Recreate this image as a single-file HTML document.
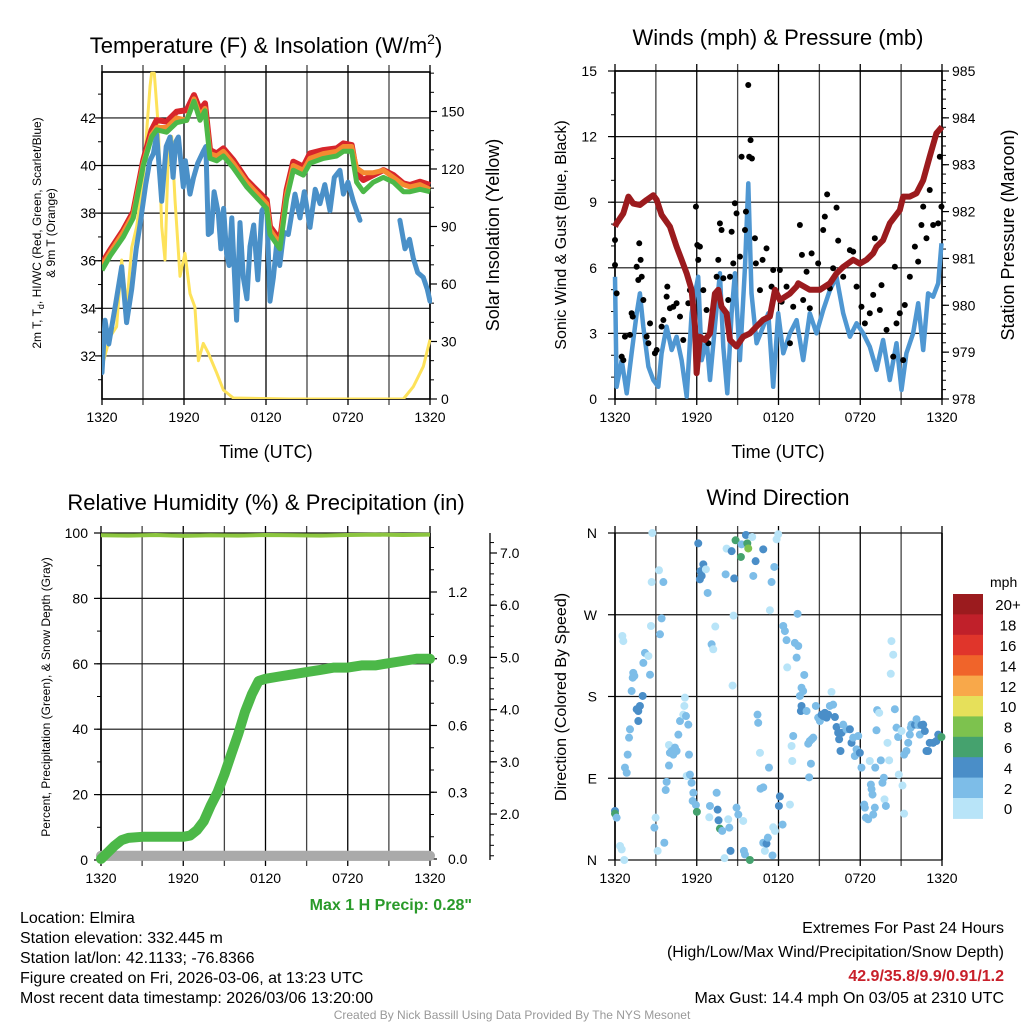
<!DOCTYPE html>
<html><head><meta charset="utf-8">
<style>
html,body{margin:0;padding:0;background:#fff;}
svg{display:block;font-family:"Liberation Sans",sans-serif;}
</style></head>
<body>
<svg id="fig" width="1024" height="1024" viewBox="0 0 1024 1024" xmlns="http://www.w3.org/2000/svg">
<rect x="0" y="0" width="1024" height="1024" fill="#fff"/>
<g font-size="22" text-anchor="middle" fill="#000">
<text x="266" y="53">Temperature (F) &amp; Insolation (W/m<tspan font-size="14" dy="-9">2</tspan><tspan dy="9">)</tspan></text>
<text x="778" y="45">Winds (mph) &amp; Pressure (mb)</text>
<text x="266" y="510">Relative Humidity (%) &amp; Precipitation (in)</text>
<text x="778" y="505">Wind Direction</text>
</g>
<g fill="#000" text-anchor="middle">
<text x="266" y="458" font-size="18">Time (UTC)</text>
<text x="778" y="458" font-size="18">Time (UTC)</text>
<text font-size="12" transform="translate(41,233) rotate(-90)">2m T, T<tspan font-size="9" dy="3">d</tspan><tspan dy="-3">, HI/WC (Red, Green, Scarlet/Blue)</tspan></text>
<text font-size="12" transform="translate(55,233) rotate(-90)">&amp; 9m T (Orange)</text>
<text font-size="18" transform="translate(499,235) rotate(-90)">Solar Insolation (Yellow)</text>
<text font-size="16" transform="translate(566,235) rotate(-90)">Sonic Wind &amp; Gust (Blue, Black)</text>
<text font-size="18" transform="translate(1014,235) rotate(-90)">Station Pressure (Maroon)</text>
<text font-size="12" transform="translate(50,697) rotate(-90)">Percent, Precipitation (Green), &amp; Snow Depth (Gray)</text>
<text font-size="16" transform="translate(566,697) rotate(-90)">Direction (Colored By Speed)</text>
</g>
<g id="layer"></g>
<g font-size="16" fill="#000">
<text x="472" y="910" text-anchor="end" font-weight="bold" fill="#2a9a2a">Max 1 H Precip: 0.28"</text>
<text x="20" y="923">Location: Elmira</text>
<text x="20" y="943">Station elevation: 332.445 m</text>
<text x="20" y="963">Station lat/lon: 42.1133; -76.8366</text>
<text x="20" y="983">Figure created on Fri, 2026-03-06, at 13:23 UTC</text>
<text x="20" y="1003">Most recent data timestamp: 2026/03/06 13:20:00</text>
<text x="1004" y="933" text-anchor="end">Extremes For Past 24 Hours</text>
<text x="1004" y="957" text-anchor="end">(High/Low/Max Wind/Precipitation/Snow Depth)</text>
<text x="1004" y="981" text-anchor="end" font-weight="bold" fill="#c8202a">42.9/35.8/9.9/0.91/1.2</text>
<text x="1004" y="1003" text-anchor="end">Max Gust: 14.4 mph On 03/05 at 2310 UTC</text>
<text x="512" y="1019" text-anchor="middle" font-size="12" fill="#999">Created By Nick Bassill Using Data Provided By The NYS Mesonet</text>
</g>
</svg>
<script>
// ---------- DATA ----------
var timeLabels = ["1320","1920","0120","0720","1320"];
var tempTicks = [32,34,36,38,40,42];
var solarTicks = [0,30,60,90,120,150];
var windTicks = [0,3,6,9,12,15];
var presTicks = [978,979,980,981,982,983,984,985];
var rhTicks = [0,20,40,60,80,100];
var precipTicks = [0.0,0.3,0.6,0.9,1.2];
var snowTicks = [2.0,3.0,4.0,5.0,6.0,7.0];
var dirLabels = ["N","E","S","W","N"];
var speedBins = ["0","2","4","6","8","10","12","14","16","18","20+"];
var speedColors = ["#b8e4f8","#7dbde8","#4a8ec8","#45a26e","#7dc24e","#e6e05a","#f8a84a","#f0642a","#e0352b","#c0202a","#9b1b1e"];

var tHours = [0,0.59,1.56,2.29,3.02,3.63,4,4.73,5.46,6.2,6.73,7.17,7.54,7.9,8.39,8.88,9.61,10.59,11.07,11.56,12.05,12.29,12.66,13.02,13.51,14,14.73,15.22,16.2,17.17,17.66,18.27,18.63,19.12,19.85,20.59,21.32,22.05,22.54,23.27,24];
var tempRed = [35.89,36.45,37.29,38.06,40.23,41.49,41.91,41.84,42.26,42.33,42.96,42.33,42.61,40.65,40.51,40.72,40.23,39.39,39.11,38.83,38.55,37.43,37.15,36.80,38.97,40.16,39.95,40.51,40.65,40.72,40.93,40.86,39.67,39.39,39.60,39.81,39.60,39.25,39.18,39.32,39.18];
var tempOrange = [35.8,36.35,37.2,37.95,40.1,41.3,41.6,41.6,42.0,41.9,42.8,42.1,42.4,40.5,40.4,40.6,40.1,39.3,39.0,38.7,38.4,37.3,37.0,36.7,38.8,40.0,39.8,40.3,40.5,40.6,40.8,40.8,39.9,39.7,39.7,39.8,39.5,39.2,39.1,39.2,39.0];
var tempGreen = [35.6,36.2,37.0,37.8,40.0,41.2,41.5,41.4,41.8,41.9,42.7,41.9,42.3,40.3,40.2,40.4,39.9,39.1,38.8,38.5,38.2,37.1,36.8,36.5,38.6,39.8,39.6,40.1,40.3,40.4,40.6,40.6,39.3,38.9,39.3,39.5,39.3,38.9,38.9,39.0,38.9];
var dewHours = [0,0.22,0.5,1.0,1.44,1.8,2.17,2.5,2.78,3.2,3.5,3.76,4.0,4.37,4.7,4.98,5.2,5.4,5.59,5.95,6.1,6.44,6.7,7.0,7.41,7.6,7.78,8.0,8.2,8.51,8.7,8.9,9.12,9.3,9.5,9.85,10.1,10.34,10.6,10.83,11.1,11.4,11.7,12.05,12.29,12.54,12.8,13.0,13.3,13.63,14.12,14.49,14.8,15.22,15.6,15.95,16.3,16.68,17.0,17.41,17.66,18.0,18.39,18.88,20,21.8,22.17,22.5,22.78,23.1,23.51,23.8,24];
var dewpoint = [31.3,33.5,32.5,34.2,35.75,33.4,34.8,36.5,37.5,39.2,40.2,40.5,41.3,38.5,40.8,41.2,39.5,41,41.2,39.1,40.2,38.8,39.5,40.1,40.6,40.8,37.1,37.2,38.9,38.0,36.5,38.2,36.3,35.8,37.8,33.5,37.6,35.3,34.4,36.6,37.5,35.2,38.1,38.4,34.3,35.3,36.8,35.8,37.2,37.1,38.8,37.8,38.9,37.4,39.0,38.4,39.2,38.1,39.5,39.8,38.8,39.3,38.5,37.7,null,37.7,36.5,36.9,36.1,35.5,35.3,34.8,34.3];
var solarHours = [0,0.59,1.07,1.44,1.8,2.17,2.54,3.02,3.51,3.63,3.83,4.12,4.37,4.61,4.85,5.1,5.34,5.71,6.07,6.44,6.8,7.05,7.41,7.78,8.39,8.88,9.61,13.76,22.05,22.78,23.51,24];
var solar = [16.9,32.5,37.7,72.5,48,79,90,116,163,170,170,142,90,72.5,128,137,104,64,76,55,48,20,29,24,13.6,4.7,0.5,0,0,6.4,16.9,31];

var presHours = [0,0.12,0.61,0.98,1.34,1.83,2.32,2.81,3.06,3.42,4.03,4.52,4.89,5.26,5.62,5.87,5.99,6.23,6.6,6.97,7.33,7.58,7.82,8.19,8.44,8.92,9.41,9.9,10.39,10.88,11.37,11.74,12.1,12.84,13.33,13.45,14.3,15.04,15.77,16.26,16.75,17.48,17.97,18.46,18.95,19.19,19.68,20.17,20.9,21.15,21.64,22.13,22.62,23.1,23.59,24];
var pressure = [981.68,981.75,981.96,982.32,982.17,982.14,982.25,982.35,982.25,981.93,981.68,981.25,980.97,980.68,980.33,979.55,978.55,979.33,979.26,979.40,980.25,980.33,979.97,979.83,979.26,979.12,979.33,979.40,979.55,979.69,979.76,980.33,980.11,980.25,980.40,980.47,980.33,980.33,980.47,980.68,980.82,980.97,980.89,980.97,981.11,981.25,981.39,981.75,982.03,982.32,982.32,982.39,982.67,983.17,983.67,983.81];
var windHours = [0,0.12,0.49,0.86,1.22,1.59,1.83,2.08,2.45,2.81,3.18,3.42,3.79,4.16,4.52,4.89,5.26,5.62,5.87,6.11,6.36,6.72,6.97,7.33,7.7,7.95,8.24,8.56,8.8,9.17,9.54,9.78,10.02,10.39,10.88,11.25,11.61,11.98,12.35,12.84,13.33,13.81,14.3,14.79,15.28,15.77,16.26,16.75,17.24,17.73,18.22,18.7,19.19,19.68,20.17,20.66,21.03,21.39,21.88,22.25,22.62,22.98,23.35,23.72,23.96];
var windSpeed = [5.59,0.56,1.78,0.26,2.09,3.92,4.83,3.31,1.48,0.87,0.56,2.09,3.31,2.24,2.85,1.78,0.11,3.92,4.83,5.59,1.78,2.7,0.87,3.31,5.75,2.39,0.26,3.92,5.75,1.78,6.05,9.86,4.83,2.55,3.31,3.92,0.56,3.92,2.09,3,3.61,1.78,3.92,3,4.07,4.98,5.59,3.92,2.85,3.46,3,2.39,1.33,2.7,0.87,2.55,0.41,2.09,3,4.38,2.24,4.83,4.68,5.29,7.12];
var gustHours = [0,0,0.12,0.49,0.61,0.73,1.1,1.22,1.3,1.59,1.71,1.78,1.88,1.96,2.08,2.32,2.45,2.57,2.93,3.06,3.42,3.55,3.79,3.84,4.03,4.28,4.52,4.77,5.01,5.38,5.5,5.94,6.04,6.11,6.23,6.48,6.72,6.85,7.46,7.58,7.7,7.82,7.95,8.31,8.44,8.56,8.68,8.8,8.92,9.17,9.29,9.54,9.61,9.78,9.85,9.95,10.05,10.27,10.34,10.64,10.83,11.12,11.49,11.61,12.1,12.23,12.59,12.84,13.08,13.57,13.72,13.81,14.06,14.3,14.43,14.91,15.28,15.4,15.57,15.77,16.01,16.26,16.38,16.75,17.24,17.48,17.73,18.09,18.34,18.7,18.95,19.07,19.44,19.56,19.93,20.42,20.54,20.66,20.9,21.15,21.27,21.64,22.01,22.25,22.49,22.62,22.86,23.1,23.35,23.72,23.84,23.96];
var gustSpeed = [7.27,6.13,4.83,1.94,1.78,2.85,2.93,3.92,3.77,6.05,5.44,7.12,6.36,5.59,4.53,2.85,2.55,3.46,2.09,2.24,3.31,3.61,4.68,5.14,4.15,4.22,4.38,3.77,2.7,4.38,4.98,8.8,7.04,6.36,6.97,4.98,4.07,2.55,5.59,6.36,8.03,7.73,5.52,4.53,5.59,7.65,6.2,8.95,8.49,6.51,11.08,7.73,8.57,14.36,11.08,11.84,11,7.35,6.2,4.98,6.36,6.89,5.14,5.9,5.9,4.45,5.14,2.55,4.22,7.96,6.59,4.53,5.82,4.15,6.66,6.2,7.73,8.34,9.36,5.06,5.98,8.75,7.24,5.59,6.81,6.74,5.14,4.22,3.46,3.92,4.76,7.35,4.07,5.21,3.16,1.94,6.05,3.46,3.92,1.78,4.3,5.59,6.97,6.28,7.96,8.8,7.35,9.56,7.96,8.03,11.08,8.8];

var rhHours = [0,2,4,6,8,10,12,14,16,18,20,22,24];
var rh = [99.3,99.2,99.4,99.1,99.3,99.2,99.4,99.3,99.2,99.4,99.5,99.4,99.5];
var precipHours = [0,0.5,1,1.5,2,3,4,5,6,6.5,7,7.5,8,8.5,9,9.5,10,10.5,11,11.5,12,13,14,15,16,17,18,19,20,21,22,23,24];
var precip = [0,0.03,0.06,0.085,0.095,0.1,0.1,0.1,0.1,0.105,0.13,0.17,0.24,0.3,0.38,0.47,0.56,0.66,0.74,0.8,0.81,0.82,0.83,0.84,0.85,0.86,0.86,0.87,0.87,0.88,0.89,0.9,0.9];
var snowHours = [0,4,8,12,16,18,20,24];
var snowDepth = [1.2,1.2,1.2,1.2,1.2,1.2,1.2,1.2];

var dirHours = [0,0,0.12,0.37,0.49,0.68,0.54,0.61,0.73,0.86,0.93,1.03,1.1,1.22,1.3,1.34,1.42,1.59,1.71,1.83,1.71,2.03,2.08,2.2,2.45,2.57,2.64,2.69,2.74,2.89,2.98,3.13,3.23,3.3,3.42,3.55,3.62,3.72,3.79,3.96,3.96,4.03,4.16,4.28,4.4,4.52,4.65,4.77,5.01,5.09,5.13,5.21,5.26,5.38,5.43,5.5,5.62,5.75,5.7,5.94,6.01,6.11,6.23,6.28,6.36,6.48,6.67,6.8,6.92,6.97,7.09,7.21,7.36,7.46,7.53,7.6,7.7,7.87,8.19,8.31,8.39,8.48,8.56,8.04,8.12,8.7,8.63,8.75,8.85,8.92,9.05,9.24,9.29,9.41,9.46,9.54,9.61,9.71,9.78,9.9,10.07,10.15,10.32,10.46,10.51,10.64,10.68,10.88,10.88,10.88,11,11.12,11.22,11.3,11.37,11.49,11.56,11.61,11.69,11.74,11.86,11.98,12.03,12.1,12.3,12.35,12.47,12.59,12.64,12.84,12.96,13.01,13.08,13.2,13.33,13.4,13.45,13.57,13.64,13.69,13.69,13.81,13.89,14.06,14.18,14.3,14.43,14.55,14.25,14.38,14.74,14.91,15.04,15.16,15.28,15.4,15.53,15.65,15.77,15.89,16.01,16.14,16.26,16.38,16.45,16.55,16.63,16.75,16.99,17.24,17.36,17.48,17.6,17.73,17.85,17.97,18.09,18.7,18.78,18.83,18.9,18.29,18.34,18.41,18.58,18.95,19.07,19.1,19.19,19.24,19.39,19.51,19.63,19.73,19.78,19.88,20,20.12,20.24,20.29,20.42,20.54,20.66,20.78,20.83,21.03,21.1,21.22,21.22,21.39,21.52,21.64,21.71,21.76,22.01,22.13,22.25,22.37,22.49,22.62,22.74,22.86,22.98,23.1,23.35,23.59,23.72,23.96];
var dirDeg = [54,51,46.6,15.4,11.7,0,246.6,241,101.7,96,116,134.7,143.9,186,200.7,206,202.6,166,164,169.6,153,180.6,217,228,224.6,204,257.6,306,360,35.6,46.6,10,319,248.5,266,306,19,77,86,104,126.6,118,120,116,123.7,120,138,153,160,169.6,178.7,158.5,92.5,149,116,94,85,74,65,60.5,53,348.6,309,318,312.7,325.5,320,294,47,59.5,237.5,232,257,74,55.4,43.7,34.5,32,342.8,44.8,35.6,10,340,2,314.5,269,192,310,352,57.6,50,333.6,347.5,43,10,6,357.8,348.6,343,0,355.6,312.7,329,160,151,118,78.5,80,342,19,10,18,24.6,101.7,275,306,5,36,322.6,32,353,358.6,59.5,70,39,257.6,252,242,212,61,125.5,109,136.5,239,222.8,271,235.6,180.6,164,169.6,189.7,186,203.7,164,128,131,132.9,134.7,91,106,169.6,156.7,153,160,158.5,162,156.7,160,169.6,185,171,157.4,146.4,140,132.9,120,140,149,143.9,143.9,129,134.7,114.5,121.8,136.5,118,101.7,109,83,78,72,61,57.6,46.6,44.8,50,57.6,101.7,142.8,165,162,109.7,85,90.6,66.8,59.5,129,109.7,205,241,226,166,145.7,135.4,94,142,82,51,116,120,129,138,145.7,149,149,155,148.6,138,148.6,149,142,120,120,129,129,131,138,135.4];
var dirSpeed = [5,7,3,1,1,1,1,1,3,3,3,3,3,3,3,3,3,5,5,5,5,5,3,3,1,3,1,1,1,3,1,1,1,3,3,3,3,3,3,3,1,3,3,3,3,3,3,3,1,1,1,3,1,3,3,3,3,3,3,3,7,5,5,5,5,5,1,3,1,3,3,1,1,3,5,5,7,3,1,1,3,5,5,1,3,1,1,5,7,3,3,7,3,1,3,3,5,7,9,7,1,3,5,3,3,1,3,3,5,3,1,5,3,3,1,3,3,1,3,1,1,1,5,5,3,3,3,3,1,1,1,1,3,3,3,3,3,3,5,5,3,3,3,3,3,3,3,3,3,3,3,3,3,5,5,5,5,5,3,1,3,5,5,5,5,5,5,3,3,5,5,3,3,3,3,5,3,1,3,3,3,3,3,3,3,3,3,3,3,3,1,3,3,3,1,3,1,1,1,1,1,3,3,3,1,1,1,1,3,3,3,3,3,3,5,3,3,3,5,5,5,5,5,5,5,5,5,7];

// ---------- HELPERS ----------
var NS = "http://www.w3.org/2000/svg";
var layer = document.getElementById("layer");
function mk(tag, attrs, parent) {
  var e = document.createElementNS(NS, tag);
  for (var k in attrs) e.setAttribute(k, attrs[k]);
  (parent || layer).appendChild(e);
  return e;
}
function lin(d0, d1, r0, r1) { return function (v) { return r0 + (v - d0) * (r1 - r0) / (d1 - d0); }; }
function pathFrom(xs, ys, fx, fy) {
  var d = "", pen = false;
  for (var i = 0; i < xs.length; i++) {
    if (ys[i] === null) { pen = false; continue; }
    d += (pen ? "L" : "M") + fx(xs[i]).toFixed(1) + "," + fy(ys[i]).toFixed(1);
    pen = true;
  }
  return d;
}
function frame(L, T, R, B, name) {
  var g = mk("g", {});
  
  
  // vertical grid every 3h
  for (var i = 0; i <= 8; i++) {
    var x = L + (R - L) * i / 8;
    var ln = mk("line", {x1: x, x2: x, y1: T - 7, y2: B + 6, stroke: (i % 2 ? "#444" : "#000"), "stroke-width": 1.3}, g);
    
    
  }
  for (var j = 0; j < timeLabels.length; j++) {
    var t = mk("text", {x: L + (R - L) * j / 4, y: B + 23, "font-size": 14, "text-anchor": "middle", fill: "#000"}, g);
    t.textContent = timeLabels[j];
    
    
  }
  return g;
}
function hgrid(g, ticks, fy, L, R) {
  for (var i = 0; i < ticks.length; i++) {
    var l = mk("line", {x1: L, x2: R, y1: fy(ticks[i]), y2: fy(ticks[i]), stroke: "#111", "stroke-width": 1.2}, g);
    
    
  }
}
function yaxis(g, x, ticks, labels, fy, side, minorStep, lo, hi, name, lx) {
  var dir = side === "left" ? -1 : 1;
  for (var i = 0; i < ticks.length; i++) {
    var y = fy(ticks[i]);
    mk("line", {x1: x, x2: x + dir * 7, y1: y, y2: y, stroke: "#000", "stroke-width": 1.2}, g);
    var t = mk("text", {x: lx, y: y + 5, "font-size": 14, "text-anchor": side === "left" ? "end" : "start", fill: "#000"}, g);
    t.textContent = labels[i];
    
    
  }
  if (minorStep) {
    for (var v = lo; v <= hi + 1e-9; v += minorStep) {
      var yy = fy(v);
      mk("line", {x1: x, x2: x + dir * 4, y1: yy, y2: yy, stroke: "#000", "stroke-width": 1}, g);
    }
  }
}

// ---------- PANEL 1: TEMPERATURE ----------
(function () {
  var L = 102, R = 430, T = 72, B = 399;
  var fx = lin(0, 24, L, R), fy = lin(30.19, 43.93, B, T), fs = lin(0, 170.6, B, T);
  var g = frame(L, T, R, B, "temperature-panel");
  hgrid(g, tempTicks, fy, L, R);
  mk("rect", {x: L, y: T, width: R - L, height: B - T, fill: "none", stroke: "#000", "stroke-width": 1.6}, g);
  yaxis(g, L, tempTicks, tempTicks.map(String), fy, "left", 1, 31, 43, "temp-tick-label", 96);
  yaxis(g, R, solarTicks, solarTicks.map(String), fs, "right", 10, 0, 170, "solar-tick-label", 441);
  var cl = mk("g", {"clip-path": "url(#c1)"}, g);
  var cp = mk("clipPath", {id: "c1"}, g); mk("rect", {x: L, y: T - 6, width: R - L + 2, height: B - T + 6}, cp);
  var s = mk("path", {d: pathFrom(solarHours, solar, fx, fs), fill: "none", stroke: "#fde25a", "stroke-width": 3, "stroke-linejoin": "round"}, cl);
   
  var dw = mk("path", {d: pathFrom(dewHours, dewpoint, fx, fy), fill: "none", stroke: "#4a90c8", "stroke-width": 5, "stroke-linejoin": "round", "stroke-linecap": "round"}, cl);
   
  var r = mk("path", {d: pathFrom(tHours, tempRed, fx, fy), fill: "none", stroke: "#d7262b", "stroke-width": 6, "stroke-linejoin": "round"}, cl);
   
  var o = mk("path", {d: pathFrom(tHours, tempOrange, fx, fy), fill: "none", stroke: "#f58a30", "stroke-width": 5, "stroke-linejoin": "round"}, cl);
   
  var gr = mk("path", {d: pathFrom(tHours, tempGreen, fx, fy), fill: "none", stroke: "#4cb848", "stroke-width": 5, "stroke-linejoin": "round"}, cl);
   
})();

// ---------- PANEL 2: WINDS ----------
(function () {
  var L = 615, R = 942, T = 71, B = 399;
  var fx = lin(0, 24, L, R), fy = lin(0, 15, B, T), fp = lin(978, 985, B, T);
  var g = frame(L, T, R, B, "winds-panel");
  hgrid(g, windTicks, fy, L, R);
  mk("rect", {x: L, y: T, width: R - L, height: B - T, fill: "none", stroke: "#000", "stroke-width": 1.6}, g);
  yaxis(g, L, windTicks, windTicks.map(String), fy, "left", 1, 0, 15, "wind-tick-label", 597);
  yaxis(g, R, presTicks, presTicks.map(String), fp, "right", 0.2, 978, 985, "pressure-tick-label", 952);
  var wl = mk("path", {d: pathFrom(windHours, windSpeed, fx, fy), fill: "none", stroke: "#4f97d2", "stroke-width": 4.5, "stroke-linejoin": "round"}, g);
   
  for (var i = 0; i < gustHours.length; i++) {
    var c = mk("circle", {cx: fx(gustHours[i]), cy: fy(gustSpeed[i]), r: 3, fill: "#000"}, g);
    
    
  }
  var p = mk("path", {d: pathFrom(presHours, pressure, fx, fp), fill: "none", stroke: "#9b1b1e", "stroke-width": 6, "stroke-linejoin": "round"}, g);
   
})();

// ---------- PANEL 3: HUMIDITY ----------
(function () {
  var L = 101, R = 430, T = 533, B = 860;
  var fx = lin(0, 24, L, R), fy = lin(0, 100, B, T), fpr = lin(0, 1.2, 859, 592), fsn = lin(2, 7, 814, 553);
  var g = frame(L, T, R, B, "humidity-panel");
  hgrid(g, rhTicks, fy, L, R);
  mk("line", {x1: L, x2: L, y1: T, y2: B, stroke: "#000", "stroke-width": 1.6}, g);
  mk("line", {x1: R, x2: R, y1: T, y2: B, stroke: "#000", "stroke-width": 1.6}, g);
  yaxis(g, L, rhTicks, rhTicks.map(String), fy, "left", 10, 0, 100, "rh-tick-label", 88);
  yaxis(g, R, precipTicks, precipTicks.map(function (v) { return v.toFixed(1); }), fpr, "right", 0.1, 0, 1.4, "precip-tick-label", 448);
  mk("line", {x1: 490, x2: 490, y1: T, y2: B, stroke: "#000", "stroke-width": 1.3}, g);
  yaxis(g, 490, snowTicks, snowTicks.map(function (v) { return v.toFixed(1); }), fsn, "right", 0.2, 1.2, 7.3, "snow-tick-label", 500);
  var sn = mk("path", {d: pathFrom(snowHours, snowDepth, fx, fsn), fill: "none", stroke: "#aaa", "stroke-width": 10, "stroke-linecap": "round"}, g);
   
  var rl = mk("path", {d: pathFrom(rhHours, rh, fx, fy), fill: "none", stroke: "#8cc63f", "stroke-width": 4}, g);
   
  var pl = mk("path", {d: pathFrom(precipHours, precip, fx, fpr), fill: "none", stroke: "#4cb848", "stroke-width": 10, "stroke-linejoin": "round", "stroke-linecap": "round"}, g);
   
})();

// ---------- PANEL 4: WIND DIRECTION ----------
(function () {
  var L = 615, R = 942, T = 533, B = 860;
  var fx = lin(0, 24, L, R), fy = lin(0, 360, B, T);
  var g = frame(L, T, R, B, "wind-direction-panel");
  var dirTicks = [0, 90, 180, 270, 360];
  hgrid(g, dirTicks, fy, L, R);
  mk("line", {x1: L, x2: L, y1: T, y2: B, stroke: "#000", "stroke-width": 1.6}, g);
  mk("line", {x1: R, x2: R, y1: T, y2: B, stroke: "#000", "stroke-width": 1.6}, g);
  yaxis(g, L, dirTicks, dirLabels, fy, "left", 0, 0, 0, "direction-tick-label", 597);
  for (var i = 0; i < dirHours.length; i++) {
    var bin = Math.min(10, Math.floor(dirSpeed[i] / 2));
    var c = mk("circle", {cx: fx(dirHours[i]), cy: fy(dirDeg[i]), r: 4, fill: speedColors[bin]}, g);
    
    
  }
  // colorbar
  var cb = mk("g", {}, g);
  
  
  var h = 20.4, top = 594;
  var u = mk("text", {x: 990, y: 587, "font-size": 14, "text-anchor": "start", fill: "#000"}, cb);
  u.textContent = "mph";
  
  
  for (var k = 0; k < speedBins.length; k++) {
    var idx = speedBins.length - 1 - k;
    var y = top + k * h;
    var rc = mk("rect", {x: 953, y: y, width: 30, height: h + 0.5, fill: speedColors[idx]}, cb);
    
    
    var t = mk("text", {x: 1008, y: y + h / 2 + 6, "font-size": 15, "text-anchor": "middle", fill: "#000"}, cb);
    t.textContent = speedBins[idx];
    
    
  }
})();
</script>
</body></html>
